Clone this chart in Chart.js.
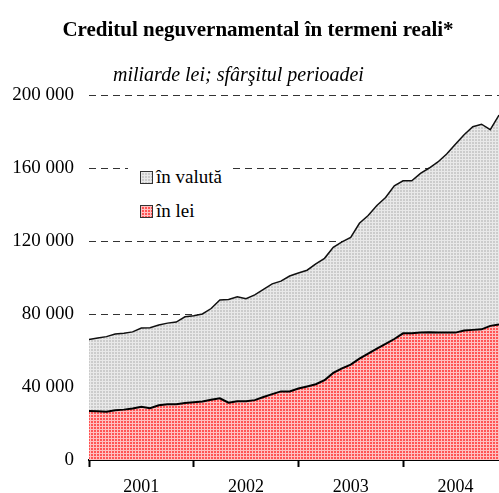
<!DOCTYPE html>
<html>
<head>
<meta charset="utf-8">
<script src="https://cdn.jsdelivr.net/npm/chart.js@4.4.1/dist/chart.umd.min.js"></script>
<style>
  body { margin: 0; background: #fff; }
  #wrap { position: relative; width: 499px; height: 493px; font-family: 'Liberation Serif', 'Times New Roman', serif; }
  #title { position: absolute; left: 0; width: 516px; top: 17px; text-align: center; font-weight: bold; font-size: 21px; }
  #subtitle { position: absolute; left: 113px; top: 63px; font-style: italic; font-size: 20px; }
  #legend { position: absolute; left: 128px; top: 160px; width: 104px; height: 64px; background: #fff; }
  .item { position: absolute; left: 12px; font-size: 19px; line-height: 20px; white-space: nowrap; }
  .swatch { display: inline-block; width: 11px; height: 11px; border: 1px solid #333; margin-right: 3px; vertical-align: -1px; }
</style>
</head>
<body>
<div id="wrap">
  <canvas id="creditChart" width="499" height="493"></canvas>
  <div id="title">Creditul neguvernamental în termeni reali*</div>
  <div id="subtitle">miliarde lei; sfârşitul perioadei</div>
  <div id="legend">
    <div class="item" style="top: 7px;"><span class="swatch" id="swValuta"></span>în valută</div>
    <div class="item" style="top: 41px;"><span class="swatch" id="swLei"></span>în lei</div>
  </div>
</div>
<script>
'use strict';

// Data (monthly, Dec 2000 - Nov 2004)
const years = ['2001', '2002', '2003', '2004'];
const yTicks = [0, 40000, 80000, 120000, 160000, 200000];
const leiValues = [
  26900, 26700, 26500, 27200, 27600, 28200, 29200, 28400, 30000, 30500, 30500, 31200,
  31600, 32100, 33000, 33800, 31400, 32200, 32200, 32800, 34500, 36100, 37600, 37600,
  39200, 40300, 41500, 43700, 47700, 50200, 52300, 55500, 58300, 61000, 63600, 66300,
  69400, 69500, 69800, 70000, 69900, 69800, 69800, 70900, 71300, 71600, 73500, 74200
];
const valutaValues = [
  39100, 40100, 41100, 41800, 41900, 42000, 43100, 44100, 44000, 44500, 45100, 47300,
  47400, 47900, 50000, 53900, 56600, 57300, 56200, 57700, 59000, 60400, 60400, 63200,
  63300, 63700, 66000, 66800, 68800, 69300, 69700, 74200, 75700, 78500, 80200, 83900,
  83600, 83500, 87200, 90000, 93400, 97900, 103200, 107300, 111300, 112400, 107500, 114800
];
const monthLabels = leiValues.map(function(v, i) { return 'm' + i; });

// Patterns
function makePattern(base, line) {
  const c = document.createElement('canvas');
  c.width = 3;
  c.height = 3;
  const g = c.getContext('2d');
  g.fillStyle = base;
  g.fillRect(0, 0, 3, 3);
  g.fillStyle = line;
  g.fillRect(0, 0, 3, 1);
  g.fillRect(0, 0, 1, 3);
  return c;
}
const redTile = makePattern('#ff5454', '#ffc0c0');
const grayTile = makePattern('#cccccc', '#e9e9e9');
document.getElementById('swLei').style.background = 'url(' + redTile.toDataURL() + ')';
document.getElementById('swValuta').style.background = 'url(' + grayTile.toDataURL() + ')';

const ctx = document.getElementById('creditChart').getContext('2d');
const redPattern = ctx.createPattern(redTile, 'repeat');
const grayPattern = ctx.createPattern(grayTile, 'repeat');

function formatThousands(v) {
  return String(v).replace(/\B(?=(\d{3})+(?!\d))/g, ' ');
}

const creditChart = new Chart(ctx, {
  type: 'line',
  data: {
    labels: monthLabels,
    datasets: [{
      label: 'în lei',
      data: leiValues,
      backgroundColor: redPattern,
      borderColor: '#000',
      borderWidth: 2,
      fill: 'origin',
      pointRadius: 0,
      tension: 0
    }, {
      label: 'în valută',
      data: valutaValues,
      backgroundColor: grayPattern,
      borderColor: '#111',
      borderWidth: 1.5,
      fill: '-1',
      pointRadius: 0,
      tension: 0
    }]
  },
  options: {
    responsive: false,
    animation: false,
    devicePixelRatio: 1,
    layout: { padding: { top: 95, right: 0, left: 0, bottom: 0 } },
    plugins: {
      legend: { display: false },
      tooltip: { enabled: false }
    },
    scales: {
      x: {
        offset: false,
        border: { display: true, color: '#000', width: 2 },
        grid: {
          drawOnChartArea: false,
          drawTicks: true,
          tickLength: 7,
          tickWidth: 2,
          tickColor: function(c) { return c.index % 12 === 0 && c.index < 48 ? '#000' : 'rgba(0,0,0,0)'; }
        },
        ticks: {
          autoSkip: false,
          maxRotation: 0,
          padding: 9,
          color: '#000',
          font: { family: 'Liberation Serif', size: 18 },
          callback: function(value, index) {
            return index % 12 === 6 ? years[Math.floor(index / 12)] : '';
          }
        },
        afterFit: function(scale) {
          scale.height = 33;
          scale.paddingLeft = 0;
          scale.paddingRight = 0;
        }
      },
      y: {
        stacked: true,
        min: 0,
        max: 200000,
        afterBuildTicks: function(scale) {
          scale.ticks = yTicks.map(function(v) { return { value: v }; });
        },
        border: { display: false, dash: [7, 5] },
        grid: {
          drawTicks: false,
          color: '#333',
          lineWidth: 1
        },
        ticks: {
          padding: 15,
          color: '#000',
          font: { family: 'Liberation Serif', size: 19 },
          callback: function(value) { return formatThousands(value); }
        },
        afterFit: function(scale) { scale.width = 89; }
      }
    }
  }
});
</script>
</body>
</html>
